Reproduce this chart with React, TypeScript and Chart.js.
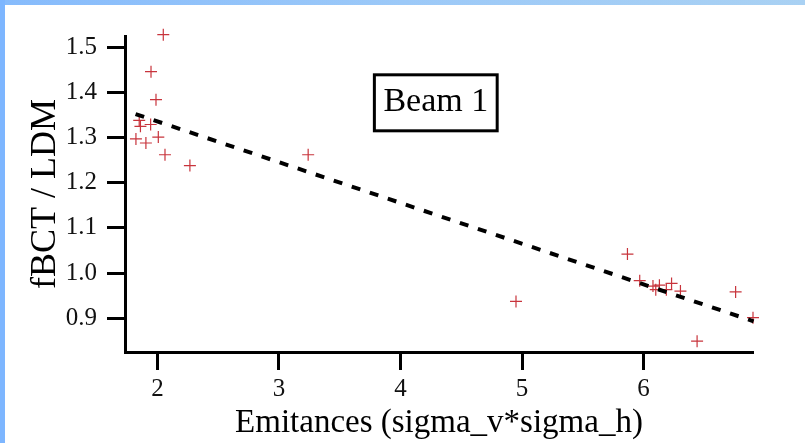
import React, { useEffect, useRef } from "react";
import { Chart, registerables } from "chart.js";

Chart.register(...registerables);

// Measured beam ratio fBCT / LDM against emittance product
const emittance = [
  2.048, 1.947, 1.988, 1.85, 1.86, 1.944, 1.823, 1.905, 2.007, 2.062, 2.267,
  3.24, 4.95, 5.867, 5.968, 6.077, 6.1, 6.13, 6.187, 6.23, 6.303, 6.44, 6.757, 6.9,
];
const ratio = [
  1.528, 1.446, 1.384, 1.338, 1.325, 1.329, 1.297, 1.288, 1.301, 1.262, 1.238,
  1.262, 0.937, 1.042, 0.983, 0.971, 0.963, 0.973, 0.963, 0.977, 0.96, 0.849, 0.958, 0.901,
];

// Linear fit end points
const fitX = [1.82, 6.905];
const fitY = [1.352, 0.893];

const xTicks = [2, 3, 4, 5, 6];
const yTicks = [0.9, 1.0, 1.1, 1.2, 1.3, 1.4, 1.5];
const xRange = [1.733, 6.9];
const yRange = [0.825, 1.525];

const xTitle = "Emitances (sigma_v*sigma_h)";
const yTitle = "fBCT / LDM";
const boxLabel = "Beam 1";
const boxAt = [4.29, 1.377];

const SERIF = '"Liberation Serif", "Times New Roman", serif';

const labelBox = {
  id: "labelBox",
  afterDatasetsDraw(chart: any) {
    const { ctx, scales } = chart;
    const cx = scales.x.getPixelForValue(boxAt[0]);
    const cy = scales.y.getPixelForValue(boxAt[1]);
    ctx.save();
    ctx.font = `34px ${SERIF}`;
    const w = ctx.measureText(boxLabel).width + 18;
    const h = 56;
    ctx.fillStyle = "#fff";
    ctx.fillRect(cx - w / 2, cy - h / 2, w, h);
    ctx.lineWidth = 3;
    ctx.strokeStyle = "#000";
    ctx.strokeRect(cx - w / 2, cy - h / 2, w, h);
    ctx.fillStyle = "#000";
    ctx.textAlign = "center";
    ctx.textBaseline = "middle";
    ctx.fillText(boxLabel, cx, cy - 1);
    ctx.restore();
  },
};

export default function App() {
  const canvasRef = useRef<HTMLCanvasElement | null>(null);

  useEffect(() => {
    const canvas = canvasRef.current;
    if (!canvas) return;

    const points = emittance.map((x, i) => ({ x, y: ratio[i] }));
    const fit = fitX.map((x, i) => ({ x, y: fitY[i] }));

    const axisCommon = {
      type: "linear" as const,
      border: { display: true, color: "#000", width: 3 },
      grid: {
        drawOnChartArea: false,
        drawTicks: true,
        tickLength: 18,
        tickWidth: 3,
        tickColor: "#000",
      },
    };

    const chart = new Chart(canvas, {
      type: "scatter",
      data: {
        datasets: [
          {
            data: fit,
            showLine: true,
            borderColor: "#000",
            borderWidth: 4,
            borderDash: [9, 10],
            pointRadius: 0,
            fill: false,
            clip: false as any,
          },
          {
            data: points,
            pointStyle: "cross",
            pointRadius: 6,
            pointBorderWidth: 1.2,
            pointBorderColor: "#c8343c",
            pointBackgroundColor: "#c8343c",
            showLine: false,
            clip: false as any,
          },
        ],
      },
      options: {
        responsive: false,
        animation: false,
        layout: { padding: { top: 36, right: 52, left: 0, bottom: 0 } },
        plugins: {
          legend: { display: false },
          tooltip: { enabled: false },
        },
        scales: {
          x: {
            ...axisCommon,
            position: "bottom",
            min: xRange[0],
            max: xRange[1],
            afterBuildTicks: (scale: any) => {
              scale.ticks = xTicks.map((value) => ({ value }));
            },
            afterFit: (scale: any) => {
              scale.height = 91;
            },
            ticks: {
              color: "#111",
              padding: 4,
              maxRotation: 0,
              font: { family: SERIF, size: 25 },
              callback: (v: any) => String(v),
            },
            title: {
              display: true,
              text: xTitle,
              color: "#000",
              padding: { top: 0, bottom: 0 },
              font: { family: SERIF, size: 33 },
            },
          },
          y: {
            ...axisCommon,
            position: "left",
            min: yRange[0],
            max: yRange[1],
            afterBuildTicks: (scale: any) => {
              scale.ticks = yTicks.map((value) => ({ value }));
            },
            afterFit: (scale: any) => {
              scale.width = 125;
            },
            ticks: {
              color: "#111",
              padding: 10,
              font: { family: SERIF, size: 25 },
              callback: (v: any) => Number(v).toFixed(1),
            },
            title: {
              display: true,
              text: yTitle,
              color: "#000",
              padding: { top: 24, bottom: 0 },
              font: { family: SERIF, size: 36 },
            },
          },
        },
      },
      plugins: [labelBox],
    });

    return () => chart.destroy();
  }, []);

  return (
    <div
      style={{
        position: "fixed",
        left: 0,
        top: 0,
        width: 805,
        height: 443,
        background: "#fff",
        overflow: "hidden",
      }}
    >
      <div
        style={{
          position: "absolute",
          left: 0,
          top: 0,
          width: 805,
          height: 5,
          background: "linear-gradient(to right, #86bbfc, #9cc9f8 50%, #a9d1f3)",
        }}
      />
      <div
        style={{
          position: "absolute",
          left: 0,
          top: 0,
          width: 5,
          height: 443,
          background: "#7db6ff",
        }}
      />
      <canvas
        ref={canvasRef}
        width={805}
        height={443}
        style={{ position: "absolute", left: 0, top: 0, width: 805, height: 443 }}
      />
    </div>
  );
}
